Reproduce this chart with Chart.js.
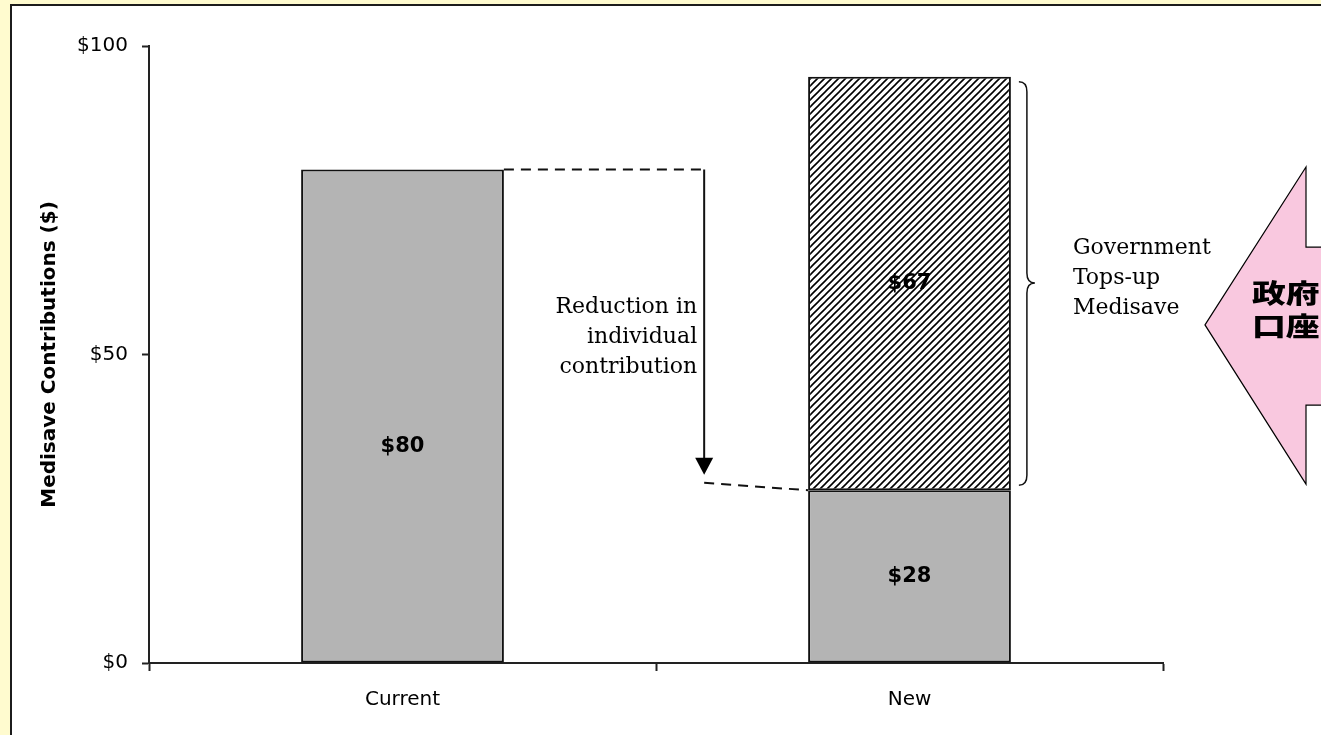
<!DOCTYPE html>
<html>
<head>
<meta charset="utf-8">
<script src="https://cdn.jsdelivr.net/npm/chart.js@4.4.0/dist/chart.umd.min.js"></script>
<style>
  html, body { margin: 0; padding: 0; background: #fffbcf; overflow: hidden; }
  #frame { position: absolute; left: 10px; top: 4px; width: 1400px; height: 800px; border: 2px solid #1c1c1c; background: #fff; }
  #wrap { position: absolute; left: 0; top: 0; width: 1321px; height: 735px; }
</style>
</head>
<body>
<div id="frame"></div>
<div id="wrap"><canvas id="chart"></canvas></div>
<script>
// values
const categories = ['Current', 'New'];
const individual = [80, 28];     // what the member pays
const government = [null, 67];   // the top-up on top of it
const yTicks = [0, 50, 100];

// diagonal hatch used for the government part
function hatch() {
  const c = document.createElement('canvas');
  c.width = 7; c.height = 7;
  const g = c.getContext('2d');
  g.fillStyle = '#fff';
  g.fillRect(0, 0, 7, 7);
  g.strokeStyle = '#000';
  g.lineWidth = 1.6;
  g.beginPath();
  g.moveTo(-1, 8); g.lineTo(8, -1);
  g.moveTo(-1, 1); g.lineTo(1, -1);
  g.moveTo(6, 8); g.lineTo(8, 6);
  g.stroke();
  return g.createPattern(c, 'repeat');
}

const serif = '22px "DejaVu Serif"';

// labels, dashed guides, arrow, brace and the pink call-out
const notes = {
  id: 'notes',
  afterDatasetsDraw(chart) {
    const { ctx, chartArea: a, scales: { x, y } } = chart;
    const cur = chart.getDatasetMeta(0).data[0];
    const low = chart.getDatasetMeta(0).data[1];
    const top = chart.getDatasetMeta(1).data[1];
    ctx.save();

    // values inside the bars
    ctx.fillStyle = '#000';
    ctx.font = 'bold 21px "DejaVu Sans"';
    ctx.textAlign = 'center';
    ctx.textBaseline = 'middle';
    ctx.fillText('$' + individual[0], cur.x, y.getPixelForValue(individual[0] / 2) + 30);
    ctx.fillText('$' + individual[1], low.x, y.getPixelForValue(individual[1] / 2));
    ctx.fillText('$' + government[1], top.x, y.getPixelForValue(individual[1] + government[1] / 2));

    // dashed guides
    const ax = x.getPixelForValue(0.595);
    ctx.strokeStyle = '#111';
    ctx.lineWidth = 2;
    ctx.setLineDash([10, 7]);
    ctx.beginPath();
    ctx.moveTo(cur.x + cur.width / 2, y.getPixelForValue(individual[0]));
    ctx.lineTo(ax, y.getPixelForValue(individual[0]));
    ctx.moveTo(ax, y.getPixelForValue(29.2));
    ctx.lineTo(low.x - low.width / 2, y.getPixelForValue(individual[1]));
    ctx.stroke();
    ctx.setLineDash([]);

    // down arrow
    const tip = y.getPixelForValue(30.5);
    ctx.beginPath();
    ctx.moveTo(ax, y.getPixelForValue(individual[0]));
    ctx.lineTo(ax, tip - 14);
    ctx.stroke();
    ctx.beginPath();
    ctx.moveTo(ax - 9, tip - 17);
    ctx.lineTo(ax + 9, tip - 17);
    ctx.lineTo(ax, tip);
    ctx.closePath();
    ctx.fillStyle = '#000';
    ctx.fill();

    ctx.font = serif;
    ctx.textAlign = 'right';
    const rm = y.getPixelForValue(52.8);
    ctx.fillText('Reduction in', ax - 7, rm - 30);
    ctx.fillText('individual', ax - 7, rm);
    ctx.fillText('contribution', ax - 7, rm + 30);

    // brace beside the hatched part
    const bx = top.x + top.width / 2 + 8;
    const bt = y.getPixelForValue(94.2), bb = y.getPixelForValue(28.8), bm = y.getPixelForValue(61.6);
    ctx.lineWidth = 1.5;
    ctx.beginPath();
    ctx.moveTo(bx, bt);
    ctx.quadraticCurveTo(bx + 8, bt, bx + 8, bt + 10);
    ctx.lineTo(bx + 8, bm - 10);
    ctx.quadraticCurveTo(bx + 8, bm, bx + 16, bm);
    ctx.quadraticCurveTo(bx + 8, bm, bx + 8, bm + 10);
    ctx.lineTo(bx + 8, bb - 10);
    ctx.quadraticCurveTo(bx + 8, bb, bx, bb);
    ctx.stroke();

    ctx.textAlign = 'left';
    const gm = y.getPixelForValue(62.3);
    const gx = top.x + top.width / 2 + 62;
    ctx.fillText('Government', gx, gm - 30);
    ctx.fillText('Tops-up', gx, gm);
    ctx.fillText('Medisave', gx, gm + 30);

    // pink double arrow (cut off at the right)
    const p0 = a.right + 42, p1 = a.right + 143, pr = chart.width + 5;
    ctx.beginPath();
    ctx.moveTo(p0, y.getPixelForValue(54.8));
    ctx.lineTo(p1, y.getPixelForValue(80.4));
    ctx.lineTo(p1, y.getPixelForValue(67.4));
    ctx.lineTo(pr, y.getPixelForValue(67.4));
    ctx.lineTo(pr, y.getPixelForValue(41.8));
    ctx.lineTo(p1, y.getPixelForValue(41.8));
    ctx.lineTo(p1, y.getPixelForValue(29));
    ctx.closePath();
    ctx.fillStyle = '#f9c8df';
    ctx.fill();
    ctx.lineWidth = 1.2;
    ctx.strokeStyle = '#000';
    ctx.stroke();

    ctx.fillStyle = '#000';
    ctx.font = '900 26px "Noto Sans CJK JP"';
    ctx.textBaseline = 'middle';
    const tx = p1 - 54;
    ctx.translate(tx, 0);
    ctx.scale(1.3, 1);
    ctx.fillText('政府', 0, y.getPixelForValue(60));
    ctx.fillText('口座', 0, y.getPixelForValue(54.8) + 1);
    ctx.restore();
  }
};

Chart.defaults.font.family = '"DejaVu Sans"';
Chart.defaults.color = '#000';

new Chart(document.getElementById('chart'), {
  type: 'bar',
  data: {
    labels: categories,
    datasets: [
      {
        label: 'Individual',
        data: individual,
        backgroundColor: '#b4b4b4',
        borderColor: '#111',
        borderWidth: 2,
        borderSkipped: false,
        barPercentage: 0.4,
        categoryPercentage: 1
      },
      {
        label: 'Government',
        data: government,
        backgroundColor: hatch(),
        borderColor: '#111',
        borderWidth: 2,
        borderSkipped: false,
        barPercentage: 0.4,
        categoryPercentage: 1
      }
    ]
  },
  options: {
    responsive: true,
    maintainAspectRatio: false,
    animation: false,
    layout: { padding: { left: 0, top: 46, right: 158, bottom: 0 } },
    plugins: { legend: { display: false }, tooltip: { enabled: false } },
    scales: {
      x: {
        stacked: true,
        afterFit: s => { s.height = 72; },
        grid: { drawOnChartArea: false, tickLength: 8, tickColor: '#222', tickWidth: 2 },
        border: { color: '#222', width: 2 },
        ticks: { font: { size: 20 }, padding: 17 }
      },
      y: {
        stacked: true,
        min: 0,
        max: 100,
        afterFit: s => { s.width = 149; },
        afterBuildTicks: s => { s.ticks = yTicks.map(v => ({ value: v })); },
        grid: { drawOnChartArea: false, tickLength: 7, tickColor: '#222', tickWidth: 2 },
        border: { color: '#222', width: 2 },
        ticks: { font: { size: 20 }, padding: 14, callback: v => '$' + v },
        title: {
          display: true,
          text: 'Medisave Contributions ($)',
          font: { size: 20, weight: 'bold' },
          padding: { top: 38, bottom: 0 }
        }
      }
    }
  },
  plugins: [notes]
});
</script>
</body>
</html>
